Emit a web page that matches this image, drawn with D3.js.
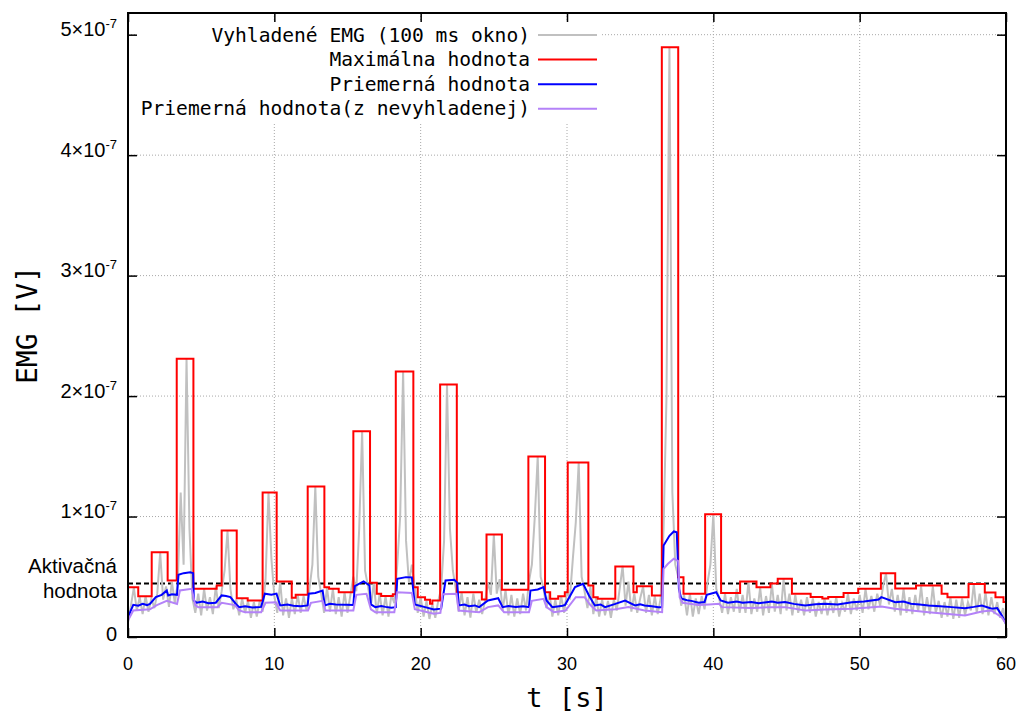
<!DOCTYPE html>
<html>
<head>
<meta charset="utf-8">
<script src="https://cdn.jsdelivr.net/npm/d3@7"></script>
<style>
body { margin: 0; background: #fff; }
svg { display: block; }
</style>
</head>
<body>
<svg width="1021" height="715"></svg>
<script>
// all values are in units of 1e-8 V
var emgStep = 0.2; // sampling of the smoothed EMG series [s]
var emgValues = [
  1.2, 2.6, 4.1, 2.2, 3.3, 1.9, 3.4, 2.1, 3.2, 2.4,
  3.6, 7.0, 3.1, 4.2, 2.5, 4.6, 2.8, 4.5, 12.0, 6.0,
  23.1, 9.0, 3.2, 2.0, 3.6, 1.8, 4.0, 2.2, 3.3, 1.9,
  4.2, 2.4, 3.8, 5.5, 8.8, 4.0, 2.3, 3.1, 1.8, 3.2,
  2.0, 3.0, 1.6, 2.9, 1.7, 3.0, 2.1, 4.8, 12.0, 6.5,
  3.4, 2.0, 4.6, 1.8, 3.2, 1.6, 3.2, 1.9, 3.5, 2.0,
  3.4, 2.2, 4.0, 6.0, 12.5, 5.0, 3.6, 2.0, 4.1, 2.1,
  4.0, 1.9, 3.3, 1.7, 3.7, 2.0, 3.5, 5.0, 3.8, 9.0,
  17.07, 5.5, 4.2, 2.6, 4.5, 1.9, 3.6, 1.8, 3.4, 1.7,
  3.5, 2.8, 6.0, 10.0, 22.05, 8.0, 4.5, 6.0, 4.1, 2.0,
  3.3, 1.7, 3.0, 1.5, 2.7, 1.6, 3.0, 4.0, 8.0, 20.97,
  9.0, 5.5, 4.0, 2.1, 3.7, 1.8, 3.3, 1.6, 3.6, 2.0,
  3.1, 1.9, 3.0, 4.5, 3.5, 8.5, 3.6, 4.8, 2.2, 3.9,
  1.8, 3.5, 1.7, 3.2, 1.9, 3.6, 2.2, 4.6, 6.0, 10.0,
  15.0, 5.0, 4.0, 2.4, 3.7, 1.7, 3.1, 1.8, 3.4, 2.0,
  3.7, 3.3, 6.5, 9.5, 14.5, 5.0, 3.8, 2.4, 4.2, 1.9,
  3.3, 1.7, 3.1, 1.8, 3.0, 1.6, 3.1, 2.2, 4.0, 5.9,
  2.6, 4.6, 2.1, 3.6, 2.0, 3.2, 4.2, 2.0, 3.5, 1.8,
  3.4, 1.9, 3.2, 9.0, 20.0, 48.96, 12.0, 6.0, 5.0, 2.6,
  3.5, 1.8, 3.6, 1.7, 3.2, 1.9, 3.4, 2.3, 4.5, 6.0,
  10.18, 4.0, 3.2, 2.0, 3.6, 1.9, 3.3, 2.1, 4.0, 2.0,
  3.5, 2.0, 4.6, 1.9, 3.2, 2.1, 4.1, 1.8, 3.4, 2.0,
  4.4, 2.1, 3.5, 1.9, 4.8, 2.2, 3.6, 1.8, 3.5, 2.0,
  3.1, 1.8, 3.3, 2.0, 3.2, 1.7, 2.9, 1.9, 3.2, 1.8,
  3.0, 2.0, 3.3, 1.7, 2.8, 2.1, 3.6, 1.9, 3.2, 2.2,
  3.5, 2.0, 4.0, 2.3, 3.4, 2.1, 3.6, 2.6, 4.2, 5.3,
  2.7, 4.0, 2.1, 3.5, 1.8, 4.0, 2.0, 3.3, 1.9, 3.5,
  2.1, 4.2, 1.8, 3.3, 1.9, 4.2, 2.0, 3.0, 1.6, 2.9,
  1.7, 3.3, 1.5, 3.1, 1.6, 3.2, 1.8, 2.9, 2.2, 4.4,
  2.0, 3.6, 1.9, 3.7, 1.8, 3.3, 1.9, 2.9, 1.6, 2.4,
  1.0
];

// running maximum (step starts)
var maxTimes = [0, 0.7, 1.62, 2.71, 3.33, 4.47, 6.06, 6.4, 7.43, 8.18,
  9.2, 10.16, 11.19, 11.46, 12.28, 13.42, 13.74, 14.4, 15.4, 16.54,
  17.0, 17.3, 18.1, 18.3, 19.5, 19.8, 20.3, 20.64, 20.8, 21.33,
  22.47, 24.18, 24.5, 25.55, 27.36, 28.5, 28.85, 29.4, 29.85, 30.05,
  31.46, 31.8, 32.1, 33.3, 34.54, 34.77, 35.8, 36.48, 37.6, 37.96,
  39.44, 40.53, 41.83, 42.95, 43.9, 44.4, 45.37, 46.65, 47.45, 47.85,
  48.9, 49.9, 51.45, 52.43, 53.85, 55.6, 56.0, 57.44, 58.55, 59.28,
  59.83, 60];
var maxValues = [4.14, 3.39, 7.04, 4.69, 23.1, 4.0, 4.28, 8.85, 3.22, 3.03,
  12.0, 4.61, 3.26, 3.5, 12.5, 4.14, 4.0, 3.72, 17.07, 4.5,
  3.6, 3.4, 3.55, 22.05, 4.14, 3.31, 3.09, 2.76, 3.03, 20.97,
  3.72, 3.11, 8.51, 3.92, 14.99, 3.72, 3.17, 3.39, 3.72, 14.49,
  4.28, 3.31, 3.17, 5.86, 3.72, 4.22, 3.45, 48.96, 4.97, 3.59,
  10.18, 3.65, 4.6, 4.14, 4.45, 4.83, 3.59, 3.33, 3.2, 3.33,
  3.65, 4.0, 5.3, 4.02, 4.28, 3.6, 3.3, 4.4, 3.7, 3.31,
  2.9, 2.9];

// mean of the smoothed EMG
var avgTimes = [0, 0.36, 0.7, 1.0, 1.3, 1.5, 1.9, 2.3, 2.65, 2.75, 3.0, 3.35, 3.45,
  3.8, 4.25, 4.45, 4.5, 4.7, 5.1, 5.5, 6.0, 6.4, 6.7, 7.0, 7.4, 7.6,
  8.0, 8.5, 9.1, 9.35, 9.8, 10.15, 10.4, 10.9, 11.3, 11.8, 12.28, 12.35, 12.8, 13.3,
  13.45, 13.8, 14.2, 14.9, 15.4, 15.5, 16.1, 16.5, 16.6, 16.9, 17.3, 17.6,
  18.0, 18.3, 18.4, 19.0, 19.4, 19.6, 20.3, 20.9, 21.4, 21.7, 22.3,
  22.5, 22.6, 23.0, 23.3, 23.7, 24.0, 24.6, 25.3, 25.6, 26.0, 26.5, 27.0, 27.4, 27.5,
  28.0, 28.4, 28.6, 29.0, 29.7, 29.87, 30.55, 31.1, 31.5, 31.9,
  32.3, 32.6, 33.3, 33.97, 34.65, 35.0, 35.3, 35.8, 36.25, 36.5, 36.6, 37.0, 37.3,
  37.5, 37.65, 37.8, 38.2, 38.5, 39.0, 39.4, 39.55, 40.2, 40.5, 41.0, 41.6, 42.0, 42.6,
  43.1, 43.5, 44.0, 44.4, 44.9, 45.5, 46.27, 47.0, 47.64, 48.5, 49.47, 50.3, 51.29, 51.48, 52.43, 53.0, 53.5,
  54.1, 54.7, 55.5, 56.3, 57.2, 57.8, 58.35, 59.03, 59.4, 59.72, 60];
var avgValues = [1.65, 2.67, 2.6, 2.75, 2.65, 2.75, 3.31, 3.5, 3.86, 3.45, 3.55, 3.5, 5.16,
  5.3, 5.38, 5.3, 3.03, 2.84, 2.95, 2.8, 2.85, 3.45, 3.4, 3.31, 2.7, 2.48,
  2.55, 2.45, 2.5, 3.59, 3.5, 3.6, 2.62, 2.7, 2.6, 2.55, 2.62, 3.59, 3.65, 3.86,
  2.62, 2.75, 2.7, 2.67, 2.65, 4.22, 4.61, 4.28, 2.7, 2.48, 2.58, 2.5,
  2.42, 2.48, 4.83, 4.97, 4.95, 2.7, 2.48, 2.28, 2.35, 4.69, 4.75,
  4.5, 2.62, 2.7, 2.55, 2.62, 2.48, 3.03, 3.22, 2.48, 2.58, 2.5, 2.55, 2.48, 3.86,
  3.95, 4.14, 3.03, 2.48, 2.6, 2.67, 4.14, 4.42, 3.45, 2.62,
  2.7, 2.48, 2.75, 3.03, 2.62, 2.72, 2.62, 2.55, 2.48, 2.48, 7.6, 8.4, 8.76,
  8.7, 4.0, 3.2, 3.05, 3.0, 2.85, 2.9, 3.5, 3.72, 3.03, 2.84, 2.95, 2.85, 2.9,
  2.8, 2.87, 2.95, 2.84, 2.9, 2.75, 2.62, 2.72, 2.76, 2.7, 2.89, 2.95, 3.11, 3.31, 2.89, 2.95, 2.76,
  2.7, 2.62, 2.55, 2.48, 2.39, 2.5, 2.62, 2.34, 2.4, 1.79, 1.1];

// mean of the raw (not smoothed) EMG
var rawAvgTimes = [0, 0.36, 1.5, 1.97, 2.65, 3.35, 3.55, 4.35, 4.6, 4.8,
  6.1, 6.4, 7.3, 7.6, 8.0, 9.1, 9.4, 10.1, 10.4, 12.3,
  12.5, 13.3, 13.5, 14.9, 15.4, 15.6, 16.3, 16.6, 16.9, 18.2,
  18.4, 19.4, 19.6, 20.9, 21.35, 21.5, 22.45, 22.6, 24.0, 24.6,
  25.3, 25.7, 27.4, 27.6, 28.4, 28.6, 29.1, 29.9, 30.6, 31.2,
  31.6, 32.0, 33.3, 34.2, 35.3, 36.5, 36.6, 36.9, 37.3, 37.6,
  37.7, 37.9, 39.0, 39.7, 40.4, 40.6, 42.6, 44.0, 44.9, 46.3,
  47.6, 49.5, 51.5, 52.4, 54.7, 57.2, 58.35, 59.0, 59.7, 60];
var rawAvgValues = [1.37, 2.2, 2.3, 2.65, 3.0, 2.75, 3.86, 4.0, 2.62, 2.48,
  2.48, 2.84, 2.65, 2.2, 2.06, 2.06, 2.84, 2.88, 2.2, 2.2,
  2.84, 3.0, 2.2, 2.2, 2.2, 3.5, 3.59, 2.3, 2.06, 2.06,
  3.72, 3.65, 2.3, 1.93, 2.0, 3.55, 3.59, 2.2, 2.06, 2.48,
  2.62, 2.06, 2.06, 3.0, 3.17, 2.48, 2.06, 2.2, 3.31, 3.31,
  2.65, 2.2, 2.3, 2.48, 2.2, 2.06, 5.66, 6.08, 6.5, 6.3,
  3.31, 2.84, 2.65, 2.7, 2.76, 2.48, 2.4, 2.48, 2.48, 2.2,
  2.28, 2.34, 2.54, 2.34, 2.06, 1.79, 2.12, 2.2, 1.65, 1.1];

var threshold = 4.45;
var xTicks = [0, 10, 20, 30, 40, 50, 60];
var yTicks = [0, 10, 20, 30, 40, 50];
var legendLabels = ["Vyhladené EMG (100 ms okno)", "Maximálna hodnota",
  "Priemerná hodnota", "Priemerná hodnota(z nevyhladenej)"];
var colors = ["#c0c0c0", "#ff0000", "#0000ff", "#b482f8"];

var svg = d3.select("svg"),
    margin = {top: 13, right: 15, bottom: 78, left: 128},
    width = +svg.attr("width") - margin.left - margin.right,
    height = +svg.attr("height") - margin.top - margin.bottom;

var x = d3.scaleLinear().domain([0, 60]).range([0, width]),
    y = d3.scaleLinear().domain([0, 51.8]).range([height, 0]);

var g = svg.append("g")
    .attr("transform", "translate(" + margin.left + "," + margin.top + ")");

var sansFont = "'Liberation Sans', Arial, sans-serif",
    monoFont = "'DejaVu Sans Mono', monospace";

// grid
g.append("g").selectAll("line")
  .data(xTicks.slice(1, -1))
  .enter().append("line")
    .attr("x1", function(d) { return x(d); })
    .attr("x2", function(d) { return x(d); })
    .attr("y1", 0).attr("y2", height)
    .style("stroke", "#a8a8a8").style("stroke-width", 1)
    .style("stroke-dasharray", "1,2");
g.append("g").selectAll("line")
  .data(yTicks.slice(1))
  .enter().append("line")
    .attr("x1", 0).attr("x2", width)
    .attr("y1", function(d) { return y(d); })
    .attr("y2", function(d) { return y(d); })
    .style("stroke", "#a8a8a8").style("stroke-width", 1)
    .style("stroke-dasharray", "1,2");

// legend background (opaque key)
g.append("rect")
    .attr("x", 8).attr("y", 9)
    .attr("width", 465).attr("height", 102)
    .style("fill", "#fff");

// threshold
g.append("line")
    .attr("x1", 0).attr("x2", width)
    .attr("y1", y(threshold)).attr("y2", y(threshold))
    .style("stroke", "#000").style("stroke-width", 2)
    .style("stroke-dasharray", "5,3");

var line = d3.line()
    .x(function(d) { return x(d[0]); })
    .y(function(d) { return y(d[1]); });

var emgData = emgValues.map(function(v, i) { return [i * emgStep, v]; });
var maxData = maxTimes.map(function(t, i) { return [t, maxValues[i]]; });
var avgData = avgTimes.map(function(t, i) { return [t, avgValues[i]]; });
var rawData = rawAvgTimes.map(function(t, i) { return [t, rawAvgValues[i]]; });

g.append("path").datum(emgData)
    .attr("d", line)
    .style("fill", "none").style("stroke", colors[0]).style("stroke-width", 2);
g.append("path").datum(maxData)
    .attr("d", line.curve(d3.curveStepAfter))
    .style("fill", "none").style("stroke", colors[1]).style("stroke-width", 2);
line.curve(d3.curveLinear);
g.append("path").datum(avgData)
    .attr("d", line)
    .style("fill", "none").style("stroke", colors[2]).style("stroke-width", 2);
g.append("path").datum(rawData)
    .attr("d", line)
    .style("fill", "none").style("stroke", colors[3]).style("stroke-width", 2);

// axes: ticks pointing inwards, on all four sides
function styleAxis(sel) {
  sel.select(".domain").remove();
  sel.selectAll("line").style("stroke", "#000").style("stroke-width", 1.5);
  sel.selectAll("text").remove();
}
g.append("g").attr("transform", "translate(0," + height + ")")
    .call(d3.axisBottom(x).tickValues(xTicks).tickSize(-9)).call(styleAxis);
g.append("g")
    .call(d3.axisTop(x).tickValues(xTicks).tickSize(-9)).call(styleAxis);
g.append("g")
    .call(d3.axisLeft(y).tickValues(yTicks).tickSize(-9)).call(styleAxis);
g.append("g").attr("transform", "translate(" + width + ",0)")
    .call(d3.axisRight(y).tickValues(yTicks).tickSize(-9)).call(styleAxis);

g.append("rect")
    .attr("width", width).attr("height", height)
    .style("fill", "none").style("stroke", "#000").style("stroke-width", 2);

// tick labels
g.append("g").selectAll("text")
  .data(xTicks)
  .enter().append("text")
    .attr("x", function(d) { return x(d); })
    .attr("y", height + 33)
    .attr("text-anchor", "middle")
    .style("font-family", sansFont).style("font-size", "18px")
    .text(function(d) { return d; });

var yLabels = g.append("g").selectAll("text")
  .data(yTicks)
  .enter().append("text")
    .attr("x", -11)
    .attr("y", function(d) { return d === 0 ? y(d) + 4 : y(d) + 1.5; })
    .attr("text-anchor", "end")
    .style("font-family", sansFont).style("font-size", "20px");
yLabels.each(function(d) {
  var t = d3.select(this);
  if (d === 0) { t.text("0"); return; }
  t.append("tspan").text((d / 10) + "×10");
  t.append("tspan").attr("dy", -8).style("font-size", "13px").text("-7");
});

// threshold label
var thr = g.append("text")
    .attr("text-anchor", "end")
    .style("font-family", sansFont).style("font-size", "20.5px");
thr.append("tspan").attr("x", -11).attr("y", y(threshold) - 10).text("Aktivačná");
thr.append("tspan").attr("x", -11).attr("y", y(threshold) + 15).text("hodnota");

// axis titles
svg.append("text")
    .attr("transform", "translate(37," + (margin.top + height / 2) + ") rotate(-90)")
    .attr("text-anchor", "middle")
    .style("font-family", monoFont).style("font-size", "28px")
    .text("EMG [V]");
svg.append("text")
    .attr("x", margin.left + width / 2)
    .attr("y", 707)
    .attr("text-anchor", "middle")
    .style("font-family", monoFont).style("font-size", "27px")
    .text("t [s]");

// legend
var legend = g.append("g").selectAll("g")
  .data(legendLabels)
  .enter().append("g")
    .attr("transform", function(d, i) { return "translate(0," + (22 + i * 24.6) + ")"; });
legend.append("text")
    .attr("x", 402).attr("y", 6.5)
    .attr("text-anchor", "end")
    .style("font-family", monoFont).style("font-size", "19.6px")
    .text(function(d) { return d; });
legend.append("line")
    .attr("x1", 410).attr("x2", 469)
    .style("stroke", function(d, i) { return colors[i]; })
    .style("stroke-width", 2);
</script>
</body>
</html>
